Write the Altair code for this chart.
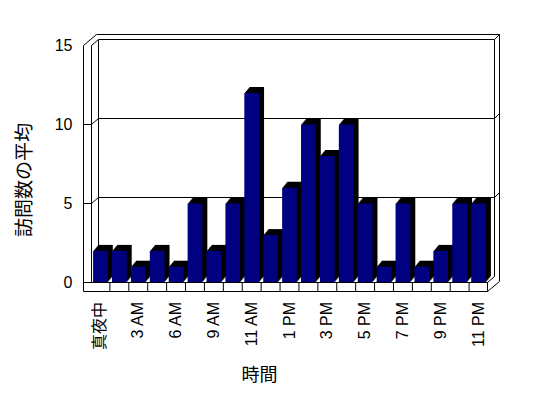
import altair as alt
import pandas as pd

# ---- data ----
hours = ["真夜中", "1 AM", "3 AM", "5 AM", "6 AM", "8 AM", "9 AM", "10 AM", "11 AM",
         "12 PM", "1 PM", "2 PM", "3 PM", "4 PM", "5 PM", "6 PM", "7 PM", "8 PM",
         "9 PM", "10 PM", "11 PM"]
shown_labels = ["真夜中", "3 AM", "6 AM", "9 AM", "11 AM", "1 PM", "3 PM", "5 PM",
                "7 PM", "9 PM", "11 PM"]
visits = [2, 2, 1, 2, 1, 5, 2, 5, 12, 3, 6, 10, 8, 10, 5, 1, 5, 1, 2, 5, 5]
y_ticks = [0, 5, 10, 15]

# ---- layout (pixels) ----
OX, OY, W, H = 91, 45.5, 397, 237
PI = 0.221
PO = PI / 2
STEP = W / (len(hours) - PI + 2 * PO)
BACK_DY = 6
LAB_FONT = "Liberation Sans, Noto Sans CJK JP"
CJK_FONT = "Noto Sans CJK JP"

df = pd.DataFrame({"hour": hours, "visits": visits, "idx": list(range(len(hours)))})
grid_df = pd.DataFrame({"v": y_ticks})

xs = alt.Scale(domain=hours, paddingInner=PI, paddingOuter=PO)
ys = alt.Scale(domain=[0, 15], nice=False, zero=True)

x_axis = alt.Axis(
    values=shown_labels, title="時間", labelAngle=270,
    labelAlign="right", labelBaseline="middle", labelPadding=19,
    ticks=False, tickSize=0, domain=False, grid=False, bandPosition=0.5,
    labelFont=LAB_FONT, labelFontSize=16, labelColor="black",
    titleFont=CJK_FONT, titleFontSize=18, titleFontWeight="normal",
    titleColor="black", titleX=168, titleY=84
)
y_axis = alt.Axis(
    values=y_ticks, title="訪問数の平均", offset=7.5,
    ticks=False, tickSize=0, domain=False, grid=False,
    labelPadding=11.5, labelFont=LAB_FONT, labelFontSize=16,
    labelColor="black", titleFont=CJK_FONT, titleFontSize=19,
    titleFontWeight="normal", titleColor="black", titlePadding=20,
    titleY=134
)


def seg(x1, y1, x2, y2):
    return alt.Chart(pd.DataFrame({"s": [0]})).mark_rule(
        color="black", strokeWidth=1
    ).encode(
        x=alt.value(x1 - OX), y=alt.value(y1 - OY),
        x2=alt.value(x2 - OX), y2=alt.value(y2 - OY)
    )


layers = []

front = alt.Chart(df).mark_bar(color="#000080").encode(
    x=alt.X("hour:N", scale=xs, sort=hours, axis=x_axis),
    y=alt.Y("visits:Q", scale=ys, axis=y_axis)
)

# back wall grid lines
layers.append(
    alt.Chart(grid_df).transform_filter("datum.v > 0").mark_rule(
        color="black", strokeWidth=1, yOffset=-BACK_DY
    ).encode(
        y=alt.Y("v:Q", scale=ys, axis=y_axis),
        x=alt.value(98.5 - OX), x2=alt.value(494.5 - OX)
    )
)
# left wall diagonals
layers.append(
    alt.Chart(grid_df).transform_filter("datum.v > 0").mark_rule(
        color="black", strokeWidth=1, y2Offset=-BACK_DY
    ).encode(
        y=alt.Y("v:Q", scale=ys, axis=y_axis), y2=alt.Y2("v"),
        x=alt.value(91.5 - OX), x2=alt.value(98.5 - OX)
    )
)
# left wall front stubs
layers.append(
    alt.Chart(grid_df).transform_filter("datum.v > 0 && datum.v < 15").mark_rule(
        color="black", strokeWidth=1
    ).encode(
        y=alt.Y("v:Q", scale=ys, axis=y_axis),
        x=alt.value(83.5 - OX), x2=alt.value(91.5 - OX)
    )
)
# right wall strip diagonals
layers.append(
    alt.Chart(grid_df).transform_filter("datum.v > 0").mark_rule(
        color="black", strokeWidth=1, yOffset=-BACK_DY, y2Offset=-BACK_DY - 5
    ).encode(
        y=alt.Y("v:Q", scale=ys, axis=y_axis), y2=alt.Y2("v"),
        x=alt.value(494.5 - OX), x2=alt.value(499.5 - OX)
    )
)

# frame segments
for s in [
    (83.5, 45.5, 83.5, 291.5),
    (91.5, 45.5, 91.5, 282.5),
    (83.5, 45.5, 96.5, 34.5),
    (96.5, 34.5, 499.5, 34.5),
    (98.5, 39.5, 98.5, 276.5),
    (499.5, 34.5, 499.5, 281.5),
    (494.5, 39.5, 494.5, 276.5),
]:
    layers.append(seg(*s))

# 3D bar sides/tops (stacked offsets)
for k in range(1, 7):
    layers.append(
        alt.Chart(df).mark_bar(
            color="black", xOffset=k * 5 / 6, yOffset=-k, y2Offset=-k
        ).encode(
            x=alt.X("hour:N", scale=xs, sort=hours, axis=x_axis),
            y=alt.Y("visits:Q", scale=ys, axis=y_axis)
        )
    )

layers.append(front)

# floor front face
for s in [
    (83.5, 282.5, 487.5, 282.5),
    (83.5, 291.5, 487.5, 291.5),
    (487.5, 282.5, 487.5, 291.5),
    (487.5, 282.5, 494.5, 276.5),
    (487.5, 291.5, 499.5, 281.5),
]:
    layers.append(seg(*s))

# category boundary ticks on the floor front
layers.append(
    alt.Chart(df).transform_filter("datum.idx > 0").mark_rule(
        color="black", strokeWidth=1, xOffset=-PO * STEP
    ).encode(
        x=alt.X("hour:N", scale=xs, sort=hours, axis=x_axis, bandPosition=0),
        y=alt.value(282.5 - OY), y2=alt.value(291.5 - OY)
    )
)

chart = alt.layer(*layers).properties(
    width=W, height=H,
    padding={"left": OX, "top": OY, "right": 548 - OX - W, "bottom": 398 - OY - H},
    autosize=alt.AutoSizeParams(type="none"),
    background="white",
).configure_view(stroke=None)

chart.save("out.html", embed_options={"renderer": "svg", "actions": False})
